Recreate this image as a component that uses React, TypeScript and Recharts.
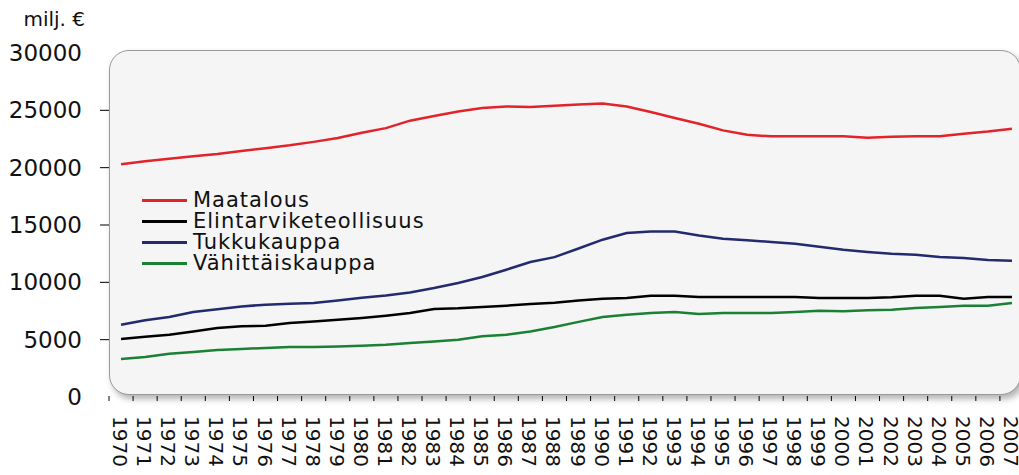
import React from 'react';
import { LineChart, Line, XAxis, YAxis, Legend, Label } from 'recharts';

const years = [
  '1970','1971','1972','1973','1974','1975','1976','1977','1978','1979',
  '1980','1981','1982','1983','1984','1985','1986','1987','1988','1989',
  '1990','1991','1992','1993','1994','1995','1996','1997','1998','1999',
  '2000','2001','2002','2003','2004','2005','2006','2007',
];

const maatalous = [
  20300, 20550, 20780, 21000, 21200, 21450, 21700, 21950, 22250, 22580,
  23050, 23450, 24100, 24500, 24900, 25200, 25330, 25300, 25400, 25500,
  25600, 25340, 24850, 24330, 23830, 23250, 22870, 22730, 22730, 22730,
  22730, 22600, 22700, 22730, 22730, 22950, 23150, 23400,
];

const elintarviketeollisuus = [
  5050, 5250, 5430, 5720, 6010, 6160, 6220, 6450, 6590, 6740,
  6900, 7090, 7320, 7670, 7730, 7850, 7960, 8110, 8230, 8420,
  8570, 8630, 8830, 8830, 8720, 8720, 8720, 8720, 8720, 8630,
  8630, 8630, 8700, 8830, 8830, 8570, 8720, 8720,
];

const tukkukauppa = [
  6300, 6700, 6980, 7410, 7650, 7900, 8050, 8130, 8200, 8420,
  8650, 8860, 9120, 9500, 9940, 10460, 11100, 11770, 12200, 12950,
  13720, 14300, 14440, 14440, 14090, 13800, 13660, 13520, 13370, 13100,
  12840, 12650, 12500, 12400, 12200, 12120, 11940, 11880,
];

const vahittaiskauppa = [
  3310, 3490, 3780, 3920, 4100, 4190, 4280, 4360, 4360, 4410,
  4480, 4560, 4710, 4850, 5000, 5290, 5430, 5720, 6100, 6550,
  6980, 7180, 7320, 7410, 7240, 7320, 7320, 7320, 7410, 7530,
  7470, 7560, 7610, 7760, 7850, 7960, 7960, 8200,
];

const yTicks = [0, 5000, 10000, 15000, 20000, 25000, 30000];
const unitLabel = 'milj. €';

const seriesNames = ['Maatalous', 'Elintarviketeollisuus', 'Tukkukauppa', 'Vähittäiskauppa'];
const seriesColors = ['#e3232a', '#000000', '#232a6e', '#1a8034'];
const seriesValues = [maatalous, elintarviketeollisuus, tukkukauppa, vahittaiskauppa];

const data = years.map((year, i) => {
  const row: Record<string, string | number> = { year };
  seriesNames.forEach((name, s) => {
    row[name] = seriesValues[s][i];
  });
  return row;
});

const FONT = '"DejaVu Sans", sans-serif';

const YTick = (props: any) => {
  const { x, y, payload } = props;
  const showLine = payload.value !== 0 && payload.value !== 30000;
  return (
    <g>
      {showLine && <line x1={x + 18} x2={x + 27} y1={y} y2={y} stroke="#000" strokeWidth={1} />}
      <text x={x} y={y} textAnchor="end" dominantBaseline="central" fontFamily={FONT} fontSize={23} fill="#111">
        {payload.value}
      </text>
    </g>
  );
};

const XTick = (props: any) => {
  const { x, y, payload } = props;
  const off = payload && typeof payload.offset === 'number' && payload.offset > 0 ? payload.offset : 12;
  const ty = y + 19;
  return (
    <g>
      <line x1={x - off} x2={x - off} y1={y - 1} y2={y + 4} stroke="#000" strokeWidth={1} />
      <text
        x={x - 1}
        y={ty}
        transform={`rotate(90 ${x - 1} ${ty})`}
        textAnchor="start"
        dominantBaseline="central"
        fontFamily={FONT}
        fontSize={20}
        fill="#111"
      >
        {payload.value}
      </text>
    </g>
  );
};

const UnitLabel = (props: any) => {
  const vb = props.viewBox || { x: 0, y: 53, width: 109 };
  return (
    <text x={vb.x + vb.width - 24} y={vb.y - 27} textAnchor="end" fontFamily={FONT} fontSize={20} fill="#111">
      {unitLabel}
    </text>
  );
};

const LegendContent = (props: any) => {
  const payload = [...(props.payload || [])].sort(
    (a: any, b: any) => seriesNames.indexOf(a.value) - seriesNames.indexOf(b.value)
  );
  return (
    <div style={{ fontFamily: FONT }}>
      {payload.map((entry: any) => (
        <div key={entry.value} style={{ display: 'flex', alignItems: 'center', height: 21 }}>
          <div style={{ width: 45, height: 3, background: entry.color, marginRight: 6 }} />
          <span style={{ fontSize: 21, lineHeight: '21px', letterSpacing: 1, color: '#111', whiteSpace: 'nowrap' }}>
            {entry.value}
          </span>
        </div>
      ))}
    </div>
  );
};

export default function App() {
  return (
    <div style={{ position: 'absolute', left: 0, top: 0, width: 1019, height: 475, overflow: 'hidden', background: '#fff' }}>
      <div
        style={{
          position: 'absolute',
          left: 109,
          top: 50,
          width: 912,
          height: 345,
          boxSizing: 'border-box',
          borderRadius: 20,
          border: '1px solid #9a9a9a',
          background: '#f5f5f5',
          boxShadow: '3px 4px 6px rgba(0,0,0,0.3)',
        }}
      />
      <div style={{ position: 'absolute', left: 0, top: 0 }}>
        <LineChart width={1030} height={475} data={data} margin={{ top: 53, right: 6, bottom: 8, left: 0 }}>
          <XAxis
            dataKey="year"
            scale="band"
            interval={0}
            height={70}
            axisLine={false}
            tickLine={false}
            tickSize={0}
            tickMargin={0}
            tick={<XTick />}
          />
          <YAxis
            domain={[0, 30000]}
            ticks={yTicks}
            width={109}
            axisLine={false}
            tickLine={false}
            tickSize={9}
            tickMargin={18}
            tick={<YTick />}
          >
            <Label content={<UnitLabel />} />
          </YAxis>
          <Legend
            layout="vertical"
            align="center"
            verticalAlign="middle"
            content={<LegendContent />}
            wrapperStyle={{ left: 142, top: 190, width: 320, height: 90 }}
          />
          {seriesNames.map((name, s) => (
            <Line
              key={name}
              type="linear"
              dataKey={name}
              name={name}
              stroke={seriesColors[s]}
              strokeWidth={2.5}
              dot={false}
              activeDot={false}
              isAnimationActive={false}
            />
          ))}
        </LineChart>
      </div>
    </div>
  );
}
